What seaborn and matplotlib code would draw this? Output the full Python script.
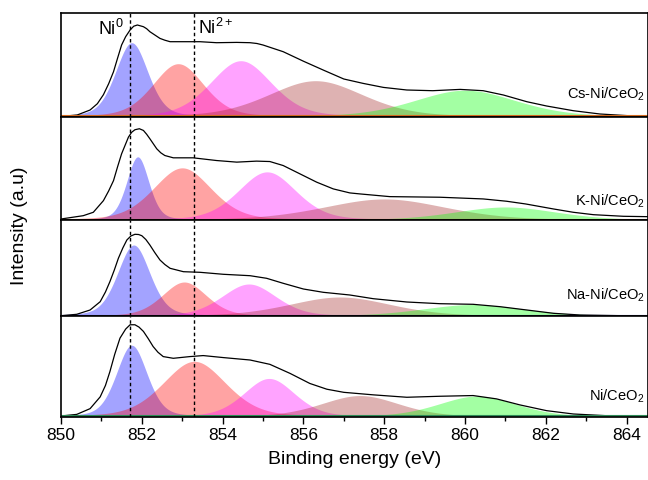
import numpy as np
import pandas as pd
import matplotlib
matplotlib.use('Agg')
import matplotlib.pyplot as plt
import seaborn as sns

# samples, top to bottom
samples = ['Cs-Ni/CeO$_2$', 'K-Ni/CeO$_2$', 'Na-Ni/CeO$_2$', 'Ni/CeO$_2$']
peak_names = ['Ni0', 'Ni2+', 'sat1', 'sat2', 'sat3']
peak_colors = ['blue', 'red', 'magenta', 'brown', 'lime']

# fitted components (binding energy, eV / height, a.u. / fwhm, eV)
cs_center = [851.75, 852.9, 854.45, 856.3, 860.0]
cs_height = [74, 53, 56, 36, 26.5]
cs_fwhm = [0.95, 1.5, 1.8, 2.8, 3.0]

k_center = [851.9, 853.0, 855.1, 858.0, 861.0]
k_height = [63, 52, 48, 21, 13]
k_fwhm = [0.65, 1.7, 1.7, 3.6, 3.0]

na_center = [851.8, 853.05, 854.65, 856.9, 860.2]
na_height = [71, 34, 32, 19, 11.5]
na_fwhm = [0.95, 1.3, 1.6, 3.0, 3.0]

ni_center = [851.75, 853.3, 855.15, 857.4, 860.3]
ni_height = [71, 55, 38, 21, 20.5]
ni_fwhm = [0.9, 1.85, 1.5, 2.3, 2.3]

# measured envelope (binding energy, eV / intensity, a.u.)
cs_env_x = [850.0, 850.4, 850.72, 850.9, 851.05, 851.18, 851.3, 851.4, 851.5, 851.6, 851.71, 851.8,
            851.89, 852.04, 852.12, 852.2, 852.45, 852.57, 852.7, 853.03, 853.44, 853.85, 854.35, 854.68,
            854.85, 855.0, 855.5, 856.0, 856.5, 857.0, 857.48, 857.98, 858.56, 859.2, 859.88, 860.45,
            860.95, 861.53, 862.02, 862.68, 863.34, 864.17, 864.55]
cs_env_y = [0.3, 1.7, 6.7, 13, 22, 33, 45, 58.5, 71.7, 80, 86.7, 90.5,
            91.7, 90, 88, 85, 78.3, 76.5, 75, 75, 75, 74, 74.3, 74,
            73.2, 71.7, 65, 55.5, 46.5, 37.7, 33.3, 29.3, 26.7, 26, 27.3, 26,
            21.7, 15, 10.7, 6, 2.7, 0.7, 0.3]

k_env_x = [850.0, 850.55, 850.8, 851.05, 851.18, 851.3, 851.4, 851.5, 851.67, 851.75, 851.83, 851.94,
           852.04, 852.12, 852.2, 852.37, 852.47, 852.57, 852.78, 853.03, 853.27, 853.85, 854.35, 854.84,
           855.17, 855.5, 855.83, 856.33, 856.74, 857.15, 857.4, 858.14, 859.38, 860.45, 861.03, 861.5,
           862.19, 862.68, 863.18, 863.92, 864.55]
k_env_y = [1, 4.3, 7.7, 19.3, 29, 39.3, 53, 66, 82.7, 87.5, 90, 91,
           89.3, 85.5, 81, 71, 67, 64.3, 62, 62, 62, 59.3, 57.7, 58.7,
           58.3, 54.3, 47.7, 37.7, 31, 27, 26, 23.3, 22.7, 21, 18.7, 16,
           11, 7.7, 5.3, 3.7, 3.3]

na_env_x = [850.0, 850.39, 850.72, 850.97, 851.1, 851.21, 851.32, 851.42, 851.53, 851.63, 851.73, 851.83,
            851.92, 852.0, 852.1, 852.2, 852.32, 852.45, 852.57, 852.7, 853.03, 853.44, 854.02, 854.68,
            855.09, 855.5, 856.0, 856.49, 857.15, 857.73, 858.56, 859.38, 860.2, 860.87, 861.53, 862.19,
            862.85, 863.9, 864.55]
na_env_y = [0.3, 1.7, 6, 14.3, 24, 34.3, 46, 57.7, 68, 76, 80, 81.7,
            81.5, 80.3, 76.5, 71, 63.5, 56, 51.5, 47.7, 44.3, 43.7, 41.7, 40.3,
            37.7, 32.7, 27, 23.7, 21, 17.3, 14, 12.3, 11.7, 9.3, 6, 2.7,
            1, 0.3, 0.2]

ni_env_x = [850.0, 850.39, 850.72, 850.97, 851.1, 851.21, 851.33, 851.46, 851.6, 851.71, 851.83, 851.93,
            852.04, 852.16, 852.28, 852.4, 852.53, 852.78, 853.19, 853.52, 854.02, 854.68, 855.17, 855.67,
            856.16, 856.58, 857.0, 857.73, 858.56, 859.38, 860.2, 860.78, 861.36, 862.02, 862.68, 863.5,
            864.33, 864.55]
ni_env_y = [0.7, 2.3, 8, 19.7, 31, 44.7, 62, 78, 87, 91.3, 91.3, 89,
            84.7, 77.5, 69.7, 64, 59.7, 58, 59.7, 60.7, 58.7, 56.3, 52, 43,
            33, 27.3, 24.2, 21.7, 19.3, 20.3, 21, 17.7, 11.7, 6, 2.7, 1,
            0.3, 0.2]

lorentz_frac = 0.3
dashed_at = [851.7, 853.3]
y_top = [104, 103, 96, 100]

centers = [cs_center, k_center, na_center, ni_center]
heights = [cs_height, k_height, na_height, ni_height]
fwhms = [cs_fwhm, k_fwhm, na_fwhm, ni_fwhm]
envs = [(cs_env_x, cs_env_y), (k_env_x, k_env_y), (na_env_x, na_env_y), (ni_env_x, ni_env_y)]
baseline_colors = ['#d2691e', '#d2691e', '#4040c0', '#2e8b57']


def pvoigt(x, c, h, w):
    g = np.exp(-4 * np.log(2) * ((x - c) / w) ** 2)
    l = 1 / (1 + 4 * ((x - c) / w) ** 2)
    return h * (lorentz_frac * l + (1 - lorentz_frac) * g)


sns.set_theme(style='white')
plt.rcParams['font.family'] = ['Liberation Sans', 'DejaVu Sans']
plt.rcParams['mathtext.fontset'] = 'custom'
plt.rcParams['mathtext.rm'] = 'Liberation Sans'
plt.rcParams['mathtext.it'] = 'Liberation Sans:italic'
plt.rcParams['text.color'] = 'black'
plt.rcParams['axes.labelcolor'] = 'black'
plt.rcParams['xtick.color'] = 'black'

fig = plt.figure(figsize=(6.48, 4.8), dpi=100)
W, H = 648, 480
left, right = 61, 648
edges = [12.7, 116.7, 220, 316, 416.7]
label_y = [0.22, 0.18, 0.22, 0.2]
be = np.linspace(850, 865, 1500)

axes = []
for i in range(4):
    top, bot = edges[i], edges[i + 1]
    ax = fig.add_axes([left / W, 1 - bot / H, (right - left) / W, (bot - top) / H])
    for name, col, c, h, w in zip(peak_names, peak_colors, centers[i], heights[i], fwhms[i]):
        ax.fill_between(be, 0, pvoigt(be, c, h, w), color=col, alpha=0.36, lw=0)
    env = pd.DataFrame({'be': envs[i][0], 'y': envs[i][1]})
    sns.lineplot(data=env, x='be', y='y', ax=ax, color='black', lw=0.9)
    ax.axhline(0.4, color=baseline_colors[i], lw=1.5)
    ax.set_xlim(850, 864.53)
    ax.set_ylim(0, y_top[i])
    ax.set_yticks([])
    ax.set_xlabel('')
    ax.set_ylabel('')
    for s in ax.spines.values():
        s.set_color('black')
        s.set_linewidth(1.2)
    for xd in dashed_at:
        ax.axvline(xd, color='black', ls=(0, (2.5, 2)), lw=1.0)
    ax.text(864.45, y_top[i] * label_y[i], samples[i], ha='right', va='center', fontsize=10.5)
    if i < 3:
        ax.set_xticks([])
    axes.append(ax)

ax = axes[-1]
ax.set_xticks(np.arange(850, 865, 2))
ax.set_xticks(np.arange(851, 865, 2), minor=True)
ax.tick_params(axis='x', which='major', direction='out', length=5, width=1, labelsize=12.5, bottom=True, pad=3)
ax.tick_params(axis='x', which='minor', direction='out', length=3, width=1, bottom=True)
ax.set_xlabel('Binding energy (eV)', fontsize=14, labelpad=6)

axes[0].text(851.55, 97.5, 'Ni$^0$', ha='right', va='top', fontsize=13)
axes[0].text(853.4, 99, 'Ni$^{2+}$', ha='left', va='top', fontsize=13)

fig.text(20 / W, 1 - 226 / H, 'Intensity (a.u)', rotation=90, ha='center', va='center', fontsize=14)

fig.savefig('out.png', dpi=100)
